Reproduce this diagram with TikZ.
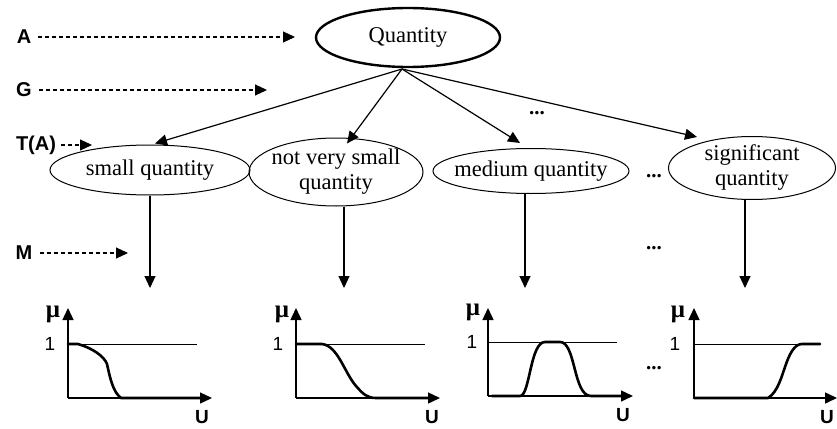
\documentclass[tikz,border=0pt]{standalone}
\usepackage{fontspec}
\setmainfont{Liberation Serif}
\newfontfamily\arialf{Liberation Sans}
\usetikzlibrary{arrows.meta,shapes.geometric,calc}
\tikzset{
  tip/.style={-{Triangle[length=12pt,width=11pt]}},
  conn/.style={tip, line width=1.2pt},
  dasharrow/.style={tip, line width=1.1pt, dash pattern=on 4pt off 3pt},
  term/.style={ellipse, draw, line width=1pt, inner sep=0pt},
  lbl/.style={font=\fontsize{22.5}{25}\selectfont, align=center, inner sep=0pt},
  side/.style={font=\arialf\bfseries\fontsize{20}{21}\selectfont, inner sep=0pt},
  axis/.style={tip, line width=1.4pt},
  one/.style={line width=0.9pt},
  curve/.style={line width=2.6pt, line join=round, line cap=round},
  num/.style={font=\arialf\fontsize{19}{20}\selectfont, inner sep=0pt},
  unum/.style={font=\arialf\bfseries\fontsize{19}{20}\selectfont, inner sep=0pt},
  mu/.style={font=\bfseries\fontsize{25}{26}\selectfont, inner sep=0pt},
  dots/.style={font=\bfseries\fontsize{21}{22}\selectfont, inner sep=0pt}
}
\begin{document}
\begin{tikzpicture}[x=1pt,y=-1pt]
\useasboundingbox (0,0) rectangle (837,428);

% top node
\node[ellipse, draw, line width=2.4pt, minimum width=184pt, minimum height=59pt, inner sep=0pt] (Q) at (408,37.5) {};
\node[lbl] (Qt) at (408,37) {Quantity};
\coordinate (qs) at (402,69);

% term nodes
\node[term, minimum width=200pt, minimum height=50pt] (sq) at (150,170) {};
\node[lbl] at (sq) {small quantity};
\node[term, minimum width=174pt, minimum height=68pt] (nv) at (336,172) {};
\node[lbl] at (nv) {not very small\\quantity};
\node[term, minimum width=196pt, minimum height=45pt] (mq) at (531,171) {};
\node[lbl] at (mq) {medium quantity};
\node[term, minimum width=167pt, minimum height=63pt] (sg) at (752,168) {};
\node[lbl] at (sg) {significant\\quantity};

% connectors from Quantity
\draw[conn] (qs) -- ($(sq.north)+(5,-1)$);
\draw[conn] (qs) -- ($(nv.north)+(11,6)$);
\draw[conn] (qs) -- ($(mq.north)+(-11,-5)$);
\draw[conn] (qs) -- ($(sg.north)+(-55,1)$);

% vertical arrows
\coordinate (t1) at (150,288);
\coordinate (t2) at (344,288);
\coordinate (t3) at (525,288);
\coordinate (t4) at (745,288);
\draw[conn] (sq.south -| t1) -- (t1);
\draw[conn] (nv.south -| t2) -- (t2);
\draw[conn] (mq.south -| t3) -- (t3);
\draw[conn] (sg.south -| t4) -- (t4);

% side labels
\node[side] (A) at (24,37) {A};
\node[side] (G) at (24,90) {G};
\node[side] (TA) at (36,145) {T(A)};
\node[side] (M) at (24,253) {M};
\coordinate (Ae) at (295,37);
\coordinate (Ge) at (267,90);
\coordinate (Te) at (92,145);
\coordinate (Me) at (128,253);
\draw[dasharrow] ($(A.east)+(7,0)$) -- (Ae);
\draw[dasharrow] ($(G.east)+(7,0)$) -- (Ge);
\draw[dasharrow] ($(TA.east)+(5,0)$) -- (Te);
\draw[dasharrow] ($(M.east)+(7,0)$) -- (Me);

% dots
\node[dots] (d1) at (537,113) {...};
\node[dots] (d2) at (654,176) {...};
\node[dots] (d3) at (654,248) {...};
\node[dots] (d4) at (654,368) {...};

% plot 1
\coordinate (o1) at (68,398);
\draw[axis] (o1) -- (68,308);
\draw[axis] (o1) -- (212,398);
\draw[one] (68,344) -- (197,344);
\draw[curve] (68,344) -- (78,344) .. controls (92,348) and (104,356) .. (107,364) .. controls (110,378) and (113,392) .. (121,398) -- (203,398);
\node[mu] at (53,314) {μ};
\node[num] at (50,344) {1};
\node[unum] at (202,417) {U};

% plot 2
\coordinate (o2) at (296,398);
\draw[axis] (o2) -- (296,308);
\draw[axis] (o2) -- (440,398);
\draw[one] (296,344) -- (425,344);
\draw[curve] (296,344) -- (322,344) .. controls (338,346) and (344,372) .. (356,386) .. controls (363,394) and (367,398) .. (376,398) -- (431,398);
\node[mu] at (282,314) {μ};
\node[num] at (278,344) {1};
\node[unum] at (432,417) {U};

% plot 3
\coordinate (o3) at (488,396);
\draw[axis] (o3) -- (488,308);
\draw[axis] (o3) -- (633,396);
\draw[one] (488,342) -- (617,342);
\draw[curve] (492,396) -- (520,396) .. controls (530,396) and (530,342) .. (545,342) -- (560,342) .. controls (576,342) and (573,396) .. (591,396) -- (624,396);
\node[mu] at (473,312) {μ};
\node[num] at (472,342) {1};
\node[unum] at (623,415) {U};

% plot 4
\coordinate (o4) at (694,398);
\draw[axis] (o4) -- (694,308);
\draw[axis] (o4) -- (837,398);
\draw[one] (694,344) -- (820,344);
\draw[curve] (694,398) -- (768,398) .. controls (778,392) and (782,375) .. (785,367) .. controls (789,355) and (794,344) .. (802,344) -- (820,344);
\node[mu] at (678,314) {μ};
\node[num] at (675,344) {1};
\node[unum] at (827,417) {U};
\end{tikzpicture}
\end{document}
